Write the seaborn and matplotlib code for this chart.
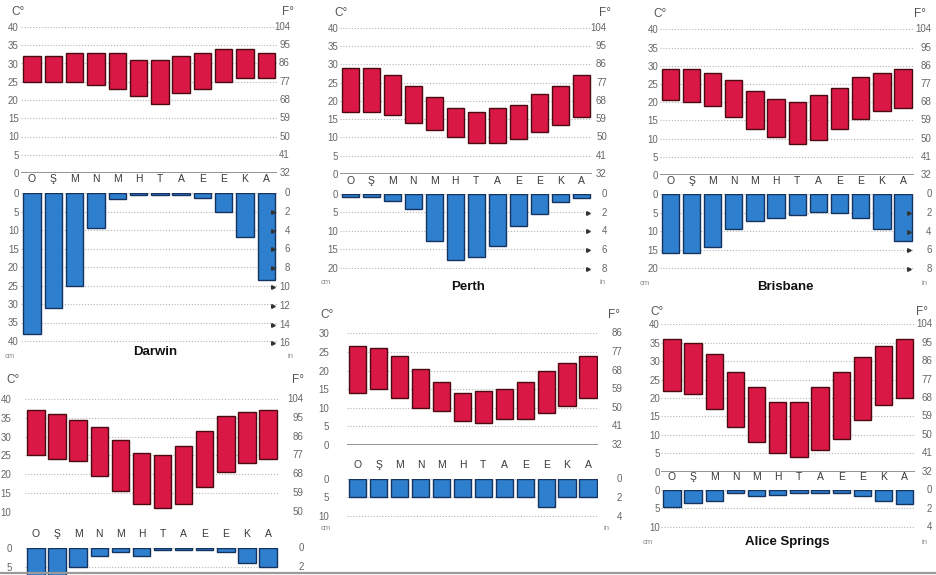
import numpy as np
import pandas as pd
import matplotlib
matplotlib.use("Agg")
import matplotlib.pyplot as plt
from matplotlib.lines import Line2D
from matplotlib.transforms import blended_transform_factory
import seaborn as sns

# ---- data ----
months = ["O", "Ş", "M", "N", "M", "H", "T", "A", "E", "E", "K", "A"]

darwin_max = [32, 32, 33, 33, 33, 31, 31, 32, 33, 34, 34, 33]
darwin_min = [25, 25, 25, 24, 23, 21, 19, 22, 23, 25, 26, 26]
darwin_rain = [38, 31, 25, 9.5, 1.5, 0.5, 0.5, 0.5, 1.3, 5.1, 12, 23.5]

perth_max = [29, 29, 27, 24, 21, 18, 17, 18, 19, 22, 24, 27]
perth_min = [17, 17, 16, 14, 12, 10, 8.5, 8.5, 9.5, 11.5, 13.5, 15.5]
perth_rain = [0.8, 0.9, 1.9, 4.2, 12.7, 17.9, 17, 14.1, 8.6, 5.5, 2.1, 1.2]

brisbane_max = [29, 29, 28, 26, 23, 21, 20, 22, 24, 27, 28, 29]
brisbane_min = [20.5, 20, 19, 16, 12.5, 10.5, 8.5, 9.5, 12.5, 15.5, 17.5, 18.5]
brisbane_rain = [16, 15.8, 14.3, 9.5, 7.2, 6.5, 5.6, 4.9, 5.2, 6.5, 9.4, 12.6]

panel4_max = [37, 36, 34.5, 32.5, 29, 25.5, 25, 27.5, 31.5, 35.5, 36.5, 37]
panel4_min = [25, 24, 23.5, 19.5, 15.5, 12, 11, 12, 16.5, 20.5, 23, 24]
panel4_rain = [8, 8, 5, 2, 1.1, 2, 0.6, 0.6, 0.6, 1.1, 4, 5]

panel5_max = [26.5, 26, 24, 20.5, 17, 14, 14.5, 15, 17, 20, 22, 24]
panel5_min = [14, 15, 12.5, 10, 9, 6.5, 6, 7, 7, 8.5, 10.5, 12.5]
panel5_rain = [4.8, 4.8, 4.8, 4.8, 4.8, 4.8, 4.8, 4.8, 4.8, 7.6, 4.8, 4.8]

alice_max = [36, 35, 32, 27, 23, 19, 19, 23, 27, 31, 34, 36]
alice_min = [22, 21, 17, 12, 8, 5, 4, 6, 9, 14, 18, 20]
alice_rain = [4.7, 3.5, 3.0, 0.7, 1.6, 1.4, 0.9, 0.9, 0.9, 1.7, 3.1, 3.7]

# ---- styling ----
W, H = 936, 575
RED, RED_EDGE = "#d91845", "#4a0a12"
BLUE, BLUE_EDGE = "#2f7fcf", "#15335e"
TICK_C = "#666666"
GRID = dict(color="#b5b5b5", linestyle=(0, (1, 1.6)), linewidth=0.8)

sns.set_style("white")
plt.rcParams["font.family"] = ["Liberation Sans", "DejaVu Sans"]

fig = plt.figure(figsize=(W / 100, H / 100), dpi=100)


def px_axes(x0, y0, x1, y1):
    return fig.add_axes([x0 / W, 1 - y1 / H, (x1 - x0) / W, (y1 - y0) / H])


def px_text(x, y, s, **kw):
    fig.text(x / W, 1 - y / H, s, **kw)


def right_labels(ax, box, values, labels, rpad):
    # labels on the right, right-aligned rpad pixels beyond the axes edge
    trans = blended_transform_factory(ax.transAxes, ax.transData)
    xpos = 1 + rpad / (box[2] - box[0])
    for v, s in zip(values, labels):
        ax.text(xpos, v, s, transform=trans, ha="right", va="center",
                fontsize=7, color=TICK_C, clip_on=False)


def temp_panel(box, tmax, tmin, ylim, lpad, rpad):
    ax = px_axes(*box)
    df = pd.DataFrame({"m": range(12), "span": np.array(tmax) - np.array(tmin)})
    sns.barplot(data=df, x="m", y="span", bottom=np.array(tmin, dtype=float),
                color=RED, edgecolor=RED_EDGE, linewidth=1.0, saturation=1,
                width=0.82, errorbar=None, ax=ax, zorder=3)
    ax.set_xlim(-0.5, 11.5)
    ax.set_ylim(*ylim)
    ticks = list(range(ylim[0], ylim[1] + 1, 5))
    ax.set_yticks(ticks)
    ax.set_xticks([])
    ax.set_xlabel("")
    ax.set_ylabel("")
    ax.yaxis.grid(True, **GRID)
    ax.set_axisbelow(True)
    if ylim[0] == 0:
        ax.axhline(0, color="#8a8a8a", lw=1.3, zorder=2)
    sns.despine(ax=ax, left=True, bottom=True)
    ax.tick_params(axis="y", length=0, labelsize=7, colors=TICK_C, pad=lpad)
    right_labels(ax, box, ticks, [str(round(c * 9 / 5 + 32)) for c in ticks], rpad)
    return ax


def rain_panel(box, rain, ymax, cm_ticks, in_ticks, mpad, lpad, rpad, arrows):
    ax = px_axes(*box)
    df = pd.DataFrame({"m": range(12), "rain": rain})
    sns.barplot(data=df, x="m", y="rain", color=BLUE, edgecolor=BLUE_EDGE,
                linewidth=1.0, saturation=1, width=0.82, errorbar=None,
                ax=ax, zorder=3)
    ax.set_xlim(-0.5, 11.5)
    ax.set_ylim(ymax, 0)
    ax.set_yticks(cm_ticks)
    ax.set_xticks(range(12), labels=months)
    ax.set_xlabel("")
    ax.set_ylabel("")
    ax.yaxis.grid(True, **GRID)
    ax.set_axisbelow(True)
    sns.despine(ax=ax, left=True, bottom=True)
    ax.tick_params(axis="x", bottom=False, labelbottom=False, top=False,
                   labeltop=True, length=0, pad=mpad, labelsize=7.5,
                   colors="#3a3a3a")
    ax.tick_params(axis="y", length=0, labelsize=7, colors=TICK_C, pad=lpad)
    right_labels(ax, box, [i * 2.54 for i in in_ticks],
                 [str(i) for i in in_ticks], rpad)
    if arrows:
        for t in in_ticks[1:]:
            ax.plot(11.3, t * 2.54, marker=">", ms=2.6, color="#333333",
                    clip_on=False, zorder=4)
    return ax


UNIT = dict(fontsize=8.5, color="#555555", ha="center", va="center")
SMALL = dict(fontsize=5.5, color="#888888", ha="center", va="center")
TITLE = dict(fontsize=9.5, fontweight="bold", color="#111111",
             ha="center", va="center")

# Darwin
temp_panel((21.4, 27, 277, 173), darwin_max, darwin_min, (0, 40), 2, 13)
rain_panel((21.4, 193, 277, 344.7), darwin_rain, 41, range(0, 41, 5),
           range(0, 17, 2), 6.5, 2, 13, True)
px_text(18, 12, "C°", **UNIT)
px_text(288, 12, "F°", **UNIT)
px_text(10, 357, "cm", **SMALL)
px_text(290, 357, "in", **SMALL)
px_text(155, 352, "Darwin", **TITLE)

# Perth
temp_panel((339.8, 27.7, 591.8, 174), perth_max, perth_min, (0, 40), 1, 15)
rain_panel((339.8, 194, 591.8, 269.4), perth_rain, 20.5, range(0, 21, 5),
           range(0, 9, 2), 5.5, 1, 15, True)
px_text(341, 13, "C°", **UNIT)
px_text(605, 13, "F°", **UNIT)
px_text(326, 283, "cm", **SMALL)
px_text(603, 283, "in", **SMALL)
px_text(468, 287, "Perth", **TITLE)

# Brisbane
temp_panel((659.8, 29.3, 913.6, 175), brisbane_max, brisbane_min, (0, 40), 1, 18)
rain_panel((659.8, 194, 913.6, 270), brisbane_rain, 20.5, range(0, 21, 5),
           range(0, 9, 2), 5.5, 1, 18, True)
px_text(660, 14, "C°", **UNIT)
px_text(920, 14, "F°", **UNIT)
px_text(645, 284, "cm", **SMALL)
px_text(925, 284, "in", **SMALL)
px_text(785, 287, "Brisbane", **TITLE)

# bottom left (no title)
temp_panel((25.4, 399, 278.6, 511.7), panel4_max, panel4_min, (10, 40), 10, 25)
rain_panel((25.4, 548, 278.6, 575), panel4_rain, 7.1, [0, 5],
           [0, 2], 6.5, 10, 25, False)
px_text(13, 380, "C°", **UNIT)
px_text(298, 380, "F°", **UNIT)

# bottom middle (no title)
temp_panel((347.4, 333.3, 598.4, 445), panel5_max, panel5_min, (0, 30), 13, 24)
rain_panel((347.4, 479, 598.4, 517.1), panel5_rain, 10.3, [0, 5, 10],
           [0, 2, 4], 6.5, 13, 24, False)
px_text(327, 315, "C°", **UNIT)
px_text(614, 315, "F°", **UNIT)
px_text(326, 528, "cm", **SMALL)
px_text(607, 528, "in", **SMALL)

# Alice Springs
temp_panel((661.4, 324.3, 915.2, 471.7), alice_max, alice_min, (0, 40), 1, 17)
rain_panel((661.4, 490, 915.2, 528), alice_rain, 10.3, [0, 5, 10],
           [0, 2, 4], 5.5, 1, 17, False)
px_text(657, 312, "C°", **UNIT)
px_text(922, 312, "F°", **UNIT)
px_text(648, 543, "cm", **SMALL)
px_text(925, 543, "in", **SMALL)
px_text(787, 542, "Alice Springs", **TITLE)

fig.add_artist(Line2D([0, 1], [1 - 573 / H, 1 - 573 / H], color="#9a9a9a",
                      lw=1.6, transform=fig.transFigure))

fig.savefig("out.png", dpi=100, facecolor="white")
